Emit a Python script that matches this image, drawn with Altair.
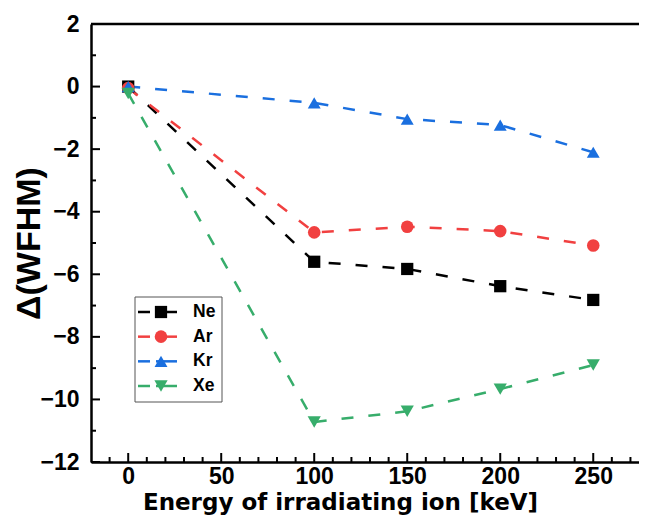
import altair as alt
import pandas as pd

# ---- data ----
energies = [0, 100, 150, 200, 250]
series_names = ["Ne", "Ar", "Kr", "Xe"]
ne_values = [0.0, -5.60, -5.83, -6.38, -6.82]
ar_values = [-0.05, -4.66, -4.48, -4.62, -5.08]
kr_values = [0.0, -0.52, -1.04, -1.23, -2.10]
xe_values = [-0.22, -10.72, -10.38, -9.67, -8.90]

colors = ["#000000", "#F14040", "#1A6FDF", "#37AD6B"]
shapes = ["square", "circle", "triangle-up", "triangle-down"]
marker_sizes = [150, 175, 215, 215]

y_major = [-12, -10, -8, -6, -4, -2, 0, 2]
y_minor = [-11, -9, -7, -5, -3, -1, 1]
x_major = [0, 50, 100, 150, 200, 250]
x_minor = [v for v in range(-10, 275, 10) if v % 50 != 0]

rows = []
for name, vals in zip(series_names, [ne_values, ar_values, kr_values, xe_values]):
    for e, v in zip(energies, vals):
        rows.append({"series": name, "energy": e, "value": v})
df = pd.DataFrame(rows)

W, H = 548, 438
FONT = "Liberation Sans"

xscale = alt.Scale(domain=[-20, 274.6], nice=False, zero=False)
yscale = alt.Scale(domain=[-12, 2], nice=False, zero=False)
color_scale = alt.Scale(domain=series_names, range=colors)
shape_scale = alt.Scale(domain=series_names, range=shapes)
size_scale = alt.Scale(domain=series_names, range=marker_sizes)

x_axis = alt.Axis(
    values=x_major, title="Energy of irradiating ion [keV]", ticks=False, tickSize=0,
    grid=False, domainWidth=2.5, domainColor="black",
    labelFont=FONT, labelFontSize=23, labelFontWeight="bold", labelColor="black",
    labelPadding=3, labelFlush=False,
    titleFont="DejaVu Sans", titleFontSize=23, titleFontWeight="bold", titleColor="black",
    titleX=249, titleY=47, titleAlign="center", titleBaseline="alphabetic",
)
y_axis = alt.Axis(
    values=y_major, title="Δ(WFHM)", ticks=False, tickSize=0,
    grid=False, domainWidth=2.5, domainColor="black",
    labelFont=FONT, labelFontSize=23, labelFontWeight="bold", labelColor="black",
    labelPadding=12, labelFlush=False,
    titleFont=FONT, titleFontSize=34, titleFontWeight="bold", titleColor="black",
    titleX=-62, titleY=219, titleAlign="center", titleBaseline="middle",
)

X = alt.X("energy:Q", scale=xscale, axis=x_axis)
Y = alt.Y("value:Q", scale=yscale, axis=y_axis)

base = alt.Chart(df)
lines = base.mark_line(strokeDash=[12, 15], strokeWidth=2.5).encode(
    x=X, y=Y,
    color=alt.Color("series:N", scale=color_scale, legend=None),
)
points = base.mark_point(filled=True, opacity=1, strokeWidth=0).encode(
    x=X, y=Y,
    color=alt.Color("series:N", scale=color_scale, legend=None),
    shape=alt.Shape("series:N", scale=shape_scale, legend=None),
    size=alt.Size("series:N", scale=size_scale, legend=None),
)

ymaj = alt.Chart(pd.DataFrame({"v": y_major})).mark_rule(color="black", strokeWidth=2).encode(
    y=alt.Y("v:Q", scale=yscale, axis=y_axis), x=alt.value(0), x2=alt.value(9))
ymin = alt.Chart(pd.DataFrame({"v": y_minor})).mark_rule(color="black", strokeWidth=2).encode(
    y=alt.Y("v:Q", scale=yscale, axis=y_axis), x=alt.value(0), x2=alt.value(5))
xmaj = alt.Chart(pd.DataFrame({"v": x_major})).mark_rule(color="black", strokeWidth=2).encode(
    x=alt.X("v:Q", scale=xscale, axis=x_axis), y=alt.value(H), y2=alt.value(H - 9))
xmin = alt.Chart(pd.DataFrame({"v": x_minor})).mark_rule(color="black", strokeWidth=2).encode(
    x=alt.X("v:Q", scale=xscale, axis=x_axis), y=alt.value(H), y2=alt.value(H - 5))
top = alt.Chart(pd.DataFrame({"v": [2]})).mark_rule(color="black", strokeWidth=2.5).encode(
    y=alt.Y("v:Q", scale=yscale, axis=y_axis), x=alt.value(0), x2=alt.value(W))

data_layer = alt.layer(lines, points, ymaj, ymin, xmaj, xmin, top)

# ---- legend ----
legend_df = pd.DataFrame({"series": series_names})
LY = alt.Y("series:N", scale=alt.Scale(type="point", domain=series_names, range=[288, 362], padding=0), axis=None)
box = alt.Chart(pd.DataFrame({"b": [1]})).mark_rect(
    fill="white", stroke="#555555", strokeWidth=1
).encode(x=alt.value(44), x2=alt.value(131), y=alt.value(273), y2=alt.value(378))
lc = alt.Color("series:N", scale=color_scale, legend=None)
leg_l = alt.Chart(legend_df).mark_rule(strokeWidth=2.5).encode(
    y=LY, x=alt.value(47), x2=alt.value(59), color=lc)
leg_r = alt.Chart(legend_df).mark_rule(strokeWidth=2.5).encode(
    y=LY, x=alt.value(65), x2=alt.value(86), color=lc)
leg_p = alt.Chart(legend_df).mark_point(filled=True, opacity=1, strokeWidth=0).encode(
    y=LY, x=alt.value(70), color=lc,
    shape=alt.Shape("series:N", scale=shape_scale, legend=None),
    size=alt.Size("series:N", scale=size_scale, legend=None),
)
leg_t = alt.Chart(legend_df).mark_text(
    align="left", baseline="middle", font=FONT, fontSize=17.5, fontWeight="bold", color="black"
).encode(y=LY, x=alt.value(102), text="series:N")
legend_layer = alt.layer(box, leg_l, leg_r, leg_p, leg_t)

chart = alt.layer(data_layer, legend_layer).resolve_scale(
    x="independent", y="independent"
).properties(
    width=W, height=H,
    padding={"left": 83, "top": 16, "right": 0, "bottom": 54},
    autosize=alt.AutoSizeParams(type="none"),
).configure_view(stroke=None)

chart.save("out.html", embed_options={"renderer": "svg", "actions": False})
